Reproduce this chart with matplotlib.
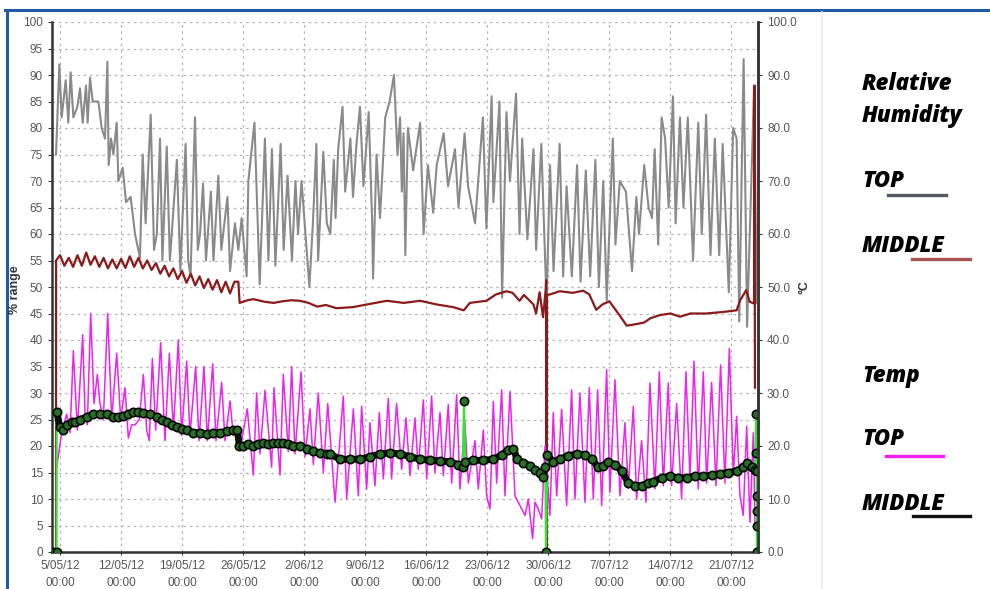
import matplotlib
matplotlib.use("Agg")
import matplotlib.pyplot as plt
from matplotlib.lines import Line2D
import numpy as np
import datetime as dt

# ---------------- data (days after 5/05/12 00:00, values) ----------------
start_date = dt.datetime(2012, 5, 5)

rh_top_day = [-0.46, -0.08, 0.19, 0.65, 0.95, 1.22, 1.53, 1.99, 2.29, 2.6, 2.98, 3.17, 3.44, 3.75, 4.4, 4.78,
              5.16, 5.43, 5.58, 5.85, 6.12, 6.5, 6.69, 7.19, 7.57, 8.1, 8.6, 8.98, 9.17, 9.48, 9.82, 10.4,
              10.78, 11.1, 11.47, 11.74, 12.24, 12.6, 13.4, 13.8, 14.4, 14.7, 14.97, 15.48, 15.8, 16.06,
              16.4, 16.74, 17.3, 17.6, 18.16, 18.5, 19.2, 19.5, 20.06, 20.45, 20.83, 21.4, 21.6, 22.3,
              22.9, 23.5, 23.9, 24.3, 24.7, 25.3, 25.65, 26.1, 26.6, 27.0, 27.3, 27.7, 28.2, 28.6, 29.0,
              29.4, 29.6, 30.2, 30.6, 31.0, 31.4, 31.6, 31.9, 32.4, 32.7, 33.3, 33.6, 34.0, 34.4, 34.8,
              35.4, 35.8, 35.9, 36.3, 36.7, 37.3, 37.8, 38.3, 38.7, 39.0, 39.2, 39.4, 39.6, 39.9, 40.5,
              41.3, 41.7, 42.2, 42.8, 43.2, 44.0, 44.5, 45.3, 45.7, 46.4, 46.8, 47.6, 48.5, 48.9, 49.5,
              49.7, 50.4, 50.7, 51.2, 51.6, 52.3, 52.7, 53.0, 53.6, 54.3, 54.6, 55.2, 55.8, 56.2, 56.6,
              57.3, 57.7, 58.1, 58.7, 59.3, 59.7, 60.3, 60.8, 61.4, 61.8, 62.3, 62.7, 63.4, 63.7, 64.2,
              64.9, 65.6, 66.1, 66.4, 67.0, 67.5, 67.9, 68.2, 68.6, 69.0, 69.4, 69.8, 70.3, 70.6, 71.1,
              71.5, 72.0, 72.6, 73.2, 73.6, 74.1, 74.6, 75.1, 75.6, 76.0, 76.7, 77.2, 77.6, 77.9, 78.4,
              78.8, 79.6, 79.9]
rh_top_val = [75, 92, 82, 89, 81, 90.5, 82, 84, 87.5, 81, 88, 81, 89.5, 85, 85, 80,
              78, 92.5, 73, 78, 75, 81, 70, 72.5, 66, 67, 60, 57, 55.5, 75, 62, 82.5,
              57, 60, 78, 55, 76.5, 55, 74, 53, 77, 55, 52, 82, 57, 60,
              69.5, 55, 68, 55, 71, 57, 67, 53, 62, 57, 63, 52, 70, 81,
              50.5, 78, 55, 76, 54, 77, 57, 71, 55, 70, 60, 70, 59, 50, 62,
              77, 55, 75.5, 62, 60, 74, 63, 76, 84, 68, 78, 67, 77, 84, 69,
              83, 62, 51.6, 75, 63, 82, 85, 90, 75, 82, 68, 79, 56, 80, 72,
              81, 60, 73, 64, 73, 79, 69, 76, 65, 79, 69, 62, 82, 61, 86,
              66, 85, 48, 83, 70, 86.5, 60, 78, 59, 76, 57, 77, 47, 73, 53,
              77, 52, 69, 52, 73, 51, 72, 52, 74, 50, 70, 47.5, 78, 58, 70,
              68, 53, 67, 60, 73, 65, 63, 76, 58, 82, 78, 65, 86, 62, 82,
              65, 82, 55, 81, 60, 82.5, 56, 78, 56, 77, 49, 80, 78, 43.5, 93,
              42.5, 88, 47]

rh_mid_day = [-0.46, -0.45, 0.0, 0.5, 1.0, 1.5, 2.0, 2.5, 3.0, 3.5, 4.0, 4.5, 5.0, 5.5, 6.0, 6.5, 7.0, 7.5,
              8.0, 8.5, 9.0, 9.5, 10.0, 10.5, 11.0, 11.5, 12.0, 12.5, 13.0, 13.5, 14.0, 14.5, 15.0, 15.5,
              16.0, 16.5, 17.0, 17.5, 18.0, 18.5, 19.0, 19.5, 20.0, 20.45, 20.6, 21.5, 22.2, 23.5, 24.5,
              25.5, 26.5, 27.5, 28.5, 29.5, 30.5, 31.7, 33.6, 35.5, 37.5, 39.4, 41.3, 43.2, 45.1, 46.3,
              47.0, 48.9, 50.0, 51.2, 51.9, 52.7, 53.2, 54.3, 54.6, 55.0, 55.4, 55.7, 55.75, 55.8, 55.85,
              56.2, 57.3, 58.8, 60.0, 60.7, 61.5, 62.2, 63.0, 64.2, 65.0, 66.1, 67.0, 67.7, 68.8, 70.0,
              71.1, 72.3, 74.1, 76.1, 77.6, 78.0, 78.7, 79.1, 79.6, 79.65, 79.7]
rh_mid_val = [0, 55, 56, 54, 55.5, 53.8, 56, 54, 56.5, 54.2, 55.8, 53.8, 55.5, 53.5, 55.2, 53.5, 55.3, 53.6,
              55.8, 53.8, 55.5, 53.5, 55, 53.2, 54.5, 52.5, 54, 52, 53.5, 51.5, 53, 50.8, 52.5, 50.3,
              52, 49.8, 51.5, 49.5, 51.3, 49, 51, 48.8, 51, 51, 47, 47.5, 47.7, 47.2, 47.0,
              47.3, 47.5, 47.4, 47, 46.3, 46.6, 46, 46.2, 46.8, 47.4, 47, 47.4, 46.7, 46.2, 45.6,
              47, 47.4, 48.6, 49.2, 48.9, 47.4, 48.5, 46.7, 45, 49, 44.3, 49.5, 51.3, 0.5, 48.5,
              48.6, 49.2, 48.9, 49.3, 48.6, 45.7, 46.7, 47.3, 44.6, 42.7, 43, 43.3, 44.1, 44.7, 45,
              44.4, 45, 45, 45.3, 45.6, 47.5, 49.4, 47.2, 46.9, 88, 31]

t_top_day = [-0.38, 0.19, 0.76, 1.15, 1.53, 1.99, 2.6, 2.87, 3.13, 3.52, 3.9, 4.28, 4.59, 4.97, 5.47, 5.93,
             6.5, 6.96, 7.45, 7.84, 8.22, 8.6, 9.1, 9.56, 9.94, 10.24, 10.59, 10.97, 11.54, 12.04, 12.54,
             13.0, 13.57, 13.95, 14.53, 14.9, 15.56, 15.94, 16.51, 16.9, 17.51, 17.89, 18.54, 18.92, 19.5,
             19.87, 20.26, 20.72, 21.48, 22.17, 22.55, 22.94, 23.51, 24.27, 24.54, 25.23, 25.61, 26.18,
             26.57, 26.95, 27.64, 28.1, 28.67, 29.05, 29.62, 30.2, 30.7, 31.54, 32.49, 32.87, 33.64,
             34.21, 34.59, 35.17, 35.55, 36.12, 36.62, 37.08, 37.65, 38.03, 38.6, 39.18, 39.68, 40.14,
             40.71, 41.09, 41.67, 42.05, 42.62, 43.0, 43.58, 43.96, 44.53, 44.92, 45.49, 45.87, 46.44,
             46.83, 47.59, 47.97, 48.55, 48.93, 49.31, 49.69, 50.08, 50.65, 51.03, 51.61, 52.18, 52.75,
             53.33, 53.71, 54.2, 54.47, 54.85, 55.24, 55.62, 56.19, 56.57, 56.96, 57.53, 58.1, 58.68,
             59.06, 59.63, 60.21, 60.7, 61.16, 61.66, 62.12, 62.69, 63.07, 63.65, 64.22, 64.79, 65.18,
             65.75, 66.13, 66.7, 67.2, 67.66, 68.23, 68.73, 69.19, 69.76, 70.14, 70.72, 71.29, 71.79,
             72.25, 72.71, 73.2, 73.78, 74.16, 74.73, 75.23, 75.76, 76.26, 76.76, 77.22, 77.6, 77.98,
             78.36, 78.75, 79.13, 79.51, 79.7]
t_top_val = [16, 22.5, 26, 22.5, 38, 23, 41, 26, 24, 45, 28, 33.5, 28, 25, 45, 25,
             37.5, 25, 31, 21.5, 24, 24, 25, 33.5, 23, 21, 36.5, 23, 39.5, 21, 37.5,
             23, 40, 22, 36, 22, 35, 21, 35, 21, 35.5, 21, 32, 21, 28.5,
             22, 23, 20, 27, 14.5, 30, 18.5, 30.5, 16, 31, 14.5, 33.5, 19,
             35, 18.5, 34, 18, 27, 16.5, 30, 15, 28, 9.4, 29.4, 10, 27,
             10.6, 27.5, 11.9, 24.4, 12.5, 26.3, 13.8, 29, 13.8, 28, 15.6, 25.3, 14.4,
             25.3, 15.6, 28.7, 13.8, 29.4, 15, 26.3, 14.4, 27.8, 13, 29.7, 11.9, 24.4,
             13, 21, 11.9, 23, 10.6, 8.1, 28.4, 13, 30.6, 10.6, 30.3, 10.6, 8.75,
             6.9, 10, 2.5, 9.4, 8.1, 6.25, 20, 6.9, 26.3, 10.6, 26.9, 8.75, 30.6,
             10, 30, 9.4, 31, 10, 30.6, 8.75, 34.4, 11.25, 32.5, 10.6, 24.4, 12,
             27.5, 10, 21, 9.4, 31.9, 11.9, 34, 12.5, 31.9, 12.5, 28, 10, 34,
             13.8, 36, 11.9, 34, 13, 32, 12.5, 35.3, 13, 38.4, 14.4, 25.6, 10.6,
             6.9, 23.75, 5.6, 22.5, 5]

t_mid_day = [-0.75, -0.4, -0.38, 0.0, 0.38, 0.76, 1.34, 1.72, 2.29, 3.06, 3.82, 4.59, 5.35, 6.12, 6.69,
             7.26, 7.84, 8.41, 8.98, 9.56, 10.32, 11.09, 11.66, 12.23, 12.8, 13.38, 13.95, 14.53, 15.29,
             16.06, 16.82, 17.58, 18.35, 19.11, 19.88, 20.34, 20.57, 21.03, 21.6, 22.17, 22.75, 23.32,
             23.89, 24.47, 25.04, 25.61, 26.18, 26.76, 27.52, 28.29, 29.05, 29.82, 30.58, 30.96, 32.11,
             33.26, 34.4, 35.55, 36.7, 37.84, 38.99, 40.14, 41.28, 42.43, 43.58, 44.72, 45.68, 46.18,
             46.33, 46.48, 47.4, 48.55, 49.69, 50.65, 51.41, 51.99, 52.45, 53.13, 53.9, 54.47, 55.05,
             55.43, 55.66, 55.73, 55.89, 56.57, 57.34, 58.3, 59.25, 60.21, 60.97, 61.74, 62.31, 62.88,
             63.65, 64.41, 65.18, 65.94, 66.7, 67.47, 68.04, 69.0, 69.95, 70.91, 71.87, 72.82, 73.78,
             74.73, 75.69, 76.64, 77.6, 78.36, 78.82, 79.32, 79.7, 79.85, 79.87, 79.88, 79.89, 79.9,
             79.91, 79.92]
t_mid_val = [0, 0, 26.5, 23.5, 23, 24, 24.5, 24.5, 25, 25.5, 26, 26, 26, 25.5, 25.5,
             25.7, 26, 26.5, 26.5, 26.3, 26, 25.5, 25, 24.5, 24, 23.5, 23.2, 23, 22.5,
             22.5, 22.3, 22.5, 22.5, 22.8, 23, 23, 20, 20, 20.3, 20, 20.3, 20.5,
             20.3, 20.5, 20.5, 20.5, 20.3, 20, 20, 19.5, 19, 18.7, 18.5, 18.5, 17.5,
             17.5, 17.5, 18, 18.5, 18.7, 18.5, 18, 17.5, 17.3, 17.2, 17, 16.5, 16,
             28.5, 17, 17.3, 17.3, 17.5, 18.3, 19.3, 19.5, 17.5, 16.8, 16.3, 15.5, 15,
             14.2, 16, 0, 18.3, 17, 17.5, 18.2, 18.5, 18.3, 17.5, 16, 16.3, 17,
             16.5, 15.3, 13, 12.5, 12.5, 13, 13.3, 14, 14.3, 14, 14, 14.3, 14.3,
             14.5, 14.8, 15, 15.3, 16, 16.8, 16, 15.5, 26, 18.7, 15.3, 10.6, 7.8,
             5, 0]
# indices of isolated spike readings in the middle temperature series
t_mid_spikes = [0, 1, 68, 83, 115, 116, 117, 118, 119, 120, 121]

tick_days = [0, 7, 14, 21, 28, 35, 42, 49, 56, 63, 70, 77]
tick_labels = ["5/05/12\n00:00", "12/05/12\n00:00", "19/05/12\n00:00", "26/05/12\n00:00",
               "2/06/12\n00:00", "9/06/12\n00:00", "16/06/12\n00:00", "23/06/12\n00:00",
               "30/06/12\n00:00", "7/07/12\n00:00", "14/07/12\n00:00", "21/07/12\n00:00"]

legend_rh = ["TOP", "MIDDLE"]
legend_t = ["TOP", "MIDDLE"]

# ---------------- helpers ----------------
def to_dates(days):
    return [start_date + dt.timedelta(days=d) for d in days]

W, H = 990, 589
fig = plt.figure(figsize=(W / 100, H / 100), dpi=100)
fig.patch.set_facecolor("white")

ax = fig.add_axes([52 / W, 1 - 552 / H, (758 - 52) / W, (552 - 22) / H])
ax.set_facecolor("white")

c_gray = "#8a8a8a"
c_red = "#8b1a1a"
c_mag = "#ee22ee"
c_green = "#33e633"

ax.plot(to_dates(rh_top_day), rh_top_val, color=c_gray, lw=1.5, zorder=3)
ax.plot(to_dates(rh_mid_day), rh_mid_val, color=c_red, lw=1.6, zorder=4)
ax.plot(to_dates(t_top_day), t_top_val, color=c_mag, lw=1.1, zorder=5)

# middle temperature: thin green trace with dark markers forming a band
ax.plot(to_dates(t_mid_day), t_mid_val, color=c_green, lw=1.5, zorder=6)
band = np.array(t_mid_val, dtype=float)
band[t_mid_spikes] = np.nan
ax.plot(to_dates(t_mid_day), band, color="#0b140b", lw=5, solid_capstyle="round", zorder=7)
ax.plot(to_dates(t_mid_day), t_mid_val, linestyle="none", zorder=8,
        marker="o", ms=6, mfc="#2a6e2a", mec="#050a05", mew=1.2)

x0 = start_date + dt.timedelta(days=-0.92)
x1 = start_date + dt.timedelta(days=80.05)
ax.set_xlim(x0, x1)
ax.set_ylim(0, 100)

ax.set_xticks(to_dates(tick_days))
ax.set_xticklabels(tick_labels)
ax.set_yticks(np.arange(0, 101, 5))
ax.tick_params(axis="both", labelsize=8.5, colors="#333333", labelcolor="#555555",
               length=3, width=0.8)
ax.tick_params(axis="x", length=2, pad=4)
for lab in ax.get_xticklabels() + ax.get_yticklabels():
    lab.set_fontfamily("Liberation Sans")
    lab.set_linespacing(1.5)

ax.grid(True, which="major", color="#b4b4b4", linestyle=(0, (2, 3)), lw=0.9)
ax.set_axisbelow(True)

for s in ["left", "right", "bottom"]:
    ax.spines[s].set_color("#333333")
    ax.spines[s].set_linewidth(1.8)
ax.spines["top"].set_visible(False)

ax2 = ax.twinx()
ax2.set_ylim(0, 100)
ax2.set_yticks(np.arange(0, 101, 10))
ax2.set_yticklabels([f"{v:.1f}" for v in np.arange(0, 101, 10)])
ax2.tick_params(axis="y", labelsize=8.5, colors="#333333", labelcolor="#555555", length=3, width=0.8)
for lab in ax2.get_yticklabels():
    lab.set_fontfamily("Liberation Sans")
for s in ["left", "bottom", "top"]:
    ax2.spines[s].set_visible(False)
ax2.spines["right"].set_color("#333333")
ax2.spines["right"].set_linewidth(1.8)

fig.text(15 / W, 1 - 290 / H, "% range", rotation=90, ha="center", va="center",
         fontsize=9, fontweight="bold", color="#333333", family="Liberation Sans")
fig.text(805 / W, 1 - 287 / H, "°C", rotation=90, ha="center", va="center",
         fontsize=9, fontweight="bold", color="#333333", family="Liberation Sans")

# frame lines
fig.add_artist(Line2D([5 / W, 1.0], [1 - 10 / H, 1 - 10 / H], color="#1f5aa6", lw=2.2))
fig.add_artist(Line2D([7 / W, 7 / W], [1 - 10 / H, 0], color="#1f5aa6", lw=2.2))
fig.add_artist(Line2D([822 / W, 822 / W], [1 - 12 / H, 0], color="#ececec", lw=1.2))

# legend text
tk = dict(fontsize=16, fontweight="heavy", style="italic", color="black",
          family="Open Sans", va="baseline", ha="left")
fig.text(862 / W, 1 - 90 / H, "Relative", **tk)
fig.text(862 / W, 1 - 122 / H, "Humidity", **tk)
fig.text(862 / W, 1 - 187 / H, legend_rh[0], **tk)
fig.text(862 / W, 1 - 252 / H, legend_rh[1], **tk)
fig.text(862 / W, 1 - 382 / H, "Temp", **tk)
fig.text(862 / W, 1 - 445 / H, legend_t[0], **tk)
fig.text(862 / W, 1 - 510 / H, legend_t[1], **tk)

def seg(xa, xb, y, color):
    fig.add_artist(Line2D([xa / W, xb / W], [1 - y / H, 1 - y / H], color=color, lw=2.4))

seg(888, 946, 194.5, "#555a60")
seg(912, 970, 258.5, "#a65452")
seg(886, 943, 456, "#f01ef0")
seg(913, 970, 515.5, "#111111")

fig.savefig("out.png", dpi=100, facecolor="white")
